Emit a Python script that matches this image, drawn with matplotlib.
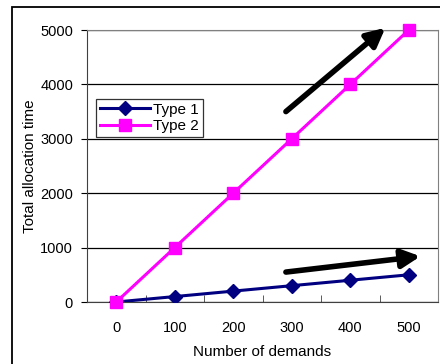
import matplotlib.pyplot as plt
from matplotlib.patches import Rectangle

plt.rcParams['font.family'] = ['Liberation Sans', 'DejaVu Sans']

demands = ["0", "100", "200", "300", "400", "500"]
type1 = [0, 100, 200, 300, 400, 500]
type2 = [0, 1000, 2000, 3000, 4000, 5000]
yticks = [0, 1000, 2000, 3000, 4000, 5000]

W, H = 440, 364
fig = plt.figure(figsize=(W / 100, H / 100), dpi=100)
ax = fig.add_axes([87 / W, 1 - 302 / H, (438 - 87) / W, (302 - 30) / H])

# outer chart frame
fig.patches.append(Rectangle((12 / W, -0.1), 1.2, 1 - 7 / H + 0.1,
                             transform=fig.transFigure, fill=False,
                             edgecolor="black", linewidth=1.3))

x = list(range(len(demands)))
ax.plot(x, type1, color="#000080", marker="D", markersize=7, linewidth=2.2,
        label="Type 1", zorder=3)
ax.plot(x, type2, color="#FF00FF", marker="s", markersize=9, linewidth=2.2,
        label="Type 2", zorder=3, clip_on=False)

ax.set_xlim(-0.5, len(demands) - 0.5)
ax.set_ylim(0, 5000)
ax.set_xticks(x)
ax.set_xticklabels(demands)
ax.set_xticks([i + 0.5 for i in x[:-1]], minor=True)
ax.set_yticks(yticks)
ax.tick_params(axis="x", which="major", length=0, pad=14, labelsize=10.5)
ax.tick_params(axis="x", which="minor", direction="in", length=5, color="#404040")
ax.tick_params(axis="y", length=4, direction="out", labelsize=10.5, pad=6)
ax.yaxis.grid(True, color="black", linewidth=0.9)
ax.set_axisbelow(True)
for s in ["top", "right"]:
    ax.spines[s].set_color("#808080")
for s in ["left", "bottom"]:
    ax.spines[s].set_color("#404040")

ax.set_xlabel("Number of demands", fontsize=11, labelpad=7)
ax.set_ylabel("Total allocation time", fontsize=11, labelpad=2)

leg = ax.legend(loc="upper left", bbox_to_anchor=(9 / 351, 1 - 69 / 272),
                fontsize=11, frameon=True, fancybox=False, edgecolor="black",
                borderpad=0.25, handlelength=3.3, labelspacing=0.15,
                handletextpad=0.2, borderaxespad=0)
leg.get_frame().set_linewidth(0.9)

# trend arrows
arrow = dict(arrowstyle="-|>,head_length=1.1,head_width=0.55", color="black",
             linewidth=4, shrinkA=0, shrinkB=0)
ax.annotate("", xy=(4.6, 5040), xytext=(2.9, 3500), arrowprops=arrow,
            annotation_clip=False)
ax.annotate("", xy=(5.2, 840), xytext=(2.9, 550), arrowprops=arrow,
            annotation_clip=False)

fig.savefig("out.png", dpi=100)
